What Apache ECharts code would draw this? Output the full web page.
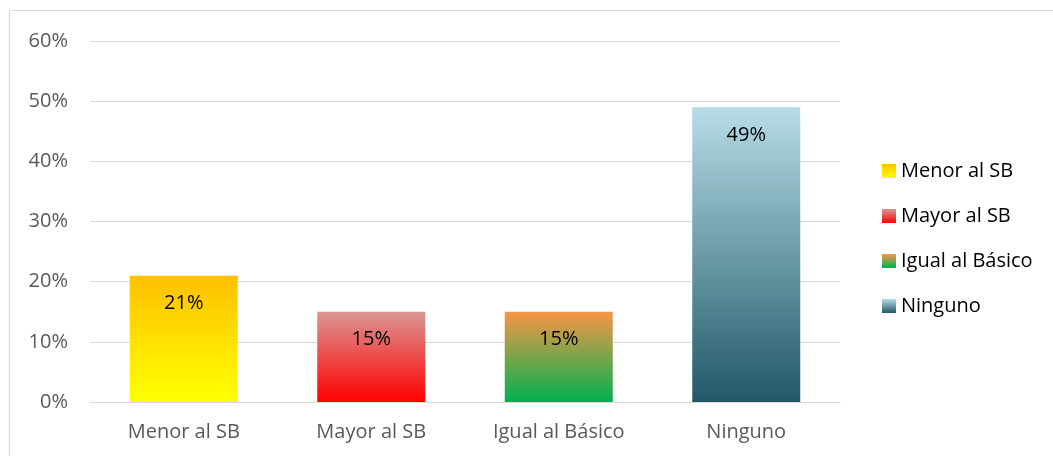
<!DOCTYPE html>
<html>
<head>
<meta charset="utf-8">
<script src="https://cdn.jsdelivr.net/npm/echarts@6/dist/echarts.min.js"></script>
<style>
  html, body { margin: 0; padding: 0; background: #fff; }
  #main { width: 1053px; height: 456px; }
</style>
</head>
<body>
<div id="main"></div>
<script>
// categorias y valores (%)
var categories = ['Menor al SB', 'Mayor al SB', 'Igual al Básico', 'Ninguno'];
var percentValues = [21, 15, 15, 49];
var yTicks = [0, 10, 20, 30, 40, 50, 60];

// degradado de cada barra: arriba -> abajo
var topColors = ['#FFC000', '#DA9694', '#F79646', '#B7DDE8'];
var bottomColors = ['#FFFF00', '#FF0000', '#00B050', '#215868'];

var chart = echarts.init(document.getElementById('main'), null, { renderer: 'canvas' });

function grad(i) {
  return new echarts.graphic.LinearGradient(0, 0, 0, 1, [
    { offset: 0, color: topColors[i] },
    { offset: 1, color: bottomColors[i] }
  ]);
}

var series = [];
for (var i = 0; i < categories.length; i++) {
  var d = [];
  for (var j = 0; j < categories.length; j++) {
    d.push(j === i ? percentValues[i] : '-');
  }
  series.push({
    name: categories[i],
    type: 'bar',
    stack: 'total',
    barWidth: 108,
    data: d,
    itemStyle: { color: grad(i) },
    label: {
      show: true,
      position: 'insideTop',
      distance: 18,
      formatter: '{c}%',
      color: '#000',
      fontSize: 20,
      fontFamily: 'Open Sans'
    }
  });
}

var option = {
  animation: false,
  backgroundColor: '#fff',
  graphic: [{
    type: 'rect',
    shape: { x: 9.5, y: 10.5, width: 1060, height: 460 },
    style: { fill: 'none', stroke: '#d9d9d9', lineWidth: 1 },
    silent: true
  }],
  grid: { left: 90, right: 213, top: 41, bottom: 54, containLabel: false },
  legend: {
    orient: 'vertical',
    left: 877,
    top: 156,
    itemWidth: 14,
    itemHeight: 14,
    itemGap: 25,
    icon: 'rect',
    textStyle: { color: '#000', fontSize: 20, lineHeight: 20, fontFamily: 'Open Sans' },
    data: categories
  },
  xAxis: {
    type: 'category',
    data: categories,
    axisLine: { show: true, lineStyle: { color: '#d9d9d9', width: 1 } },
    axisTick: { show: false },
    axisLabel: { color: '#595959', fontSize: 20, fontFamily: 'Open Sans', margin: 20 }
  },
  yAxis: {
    type: 'value',
    min: yTicks[0],
    max: yTicks[yTicks.length - 1],
    interval: 10,
    axisLine: { show: false },
    axisTick: { show: false },
    splitLine: { lineStyle: { color: '#d9d9d9', width: 1 } },
    axisLabel: {
      formatter: '{value}%',
      color: '#595959',
      fontSize: 20,
      fontFamily: 'Open Sans',
      margin: 22
    }
  },
  series: series
};
chart.setOption(option);
</script>
</body>
</html>
